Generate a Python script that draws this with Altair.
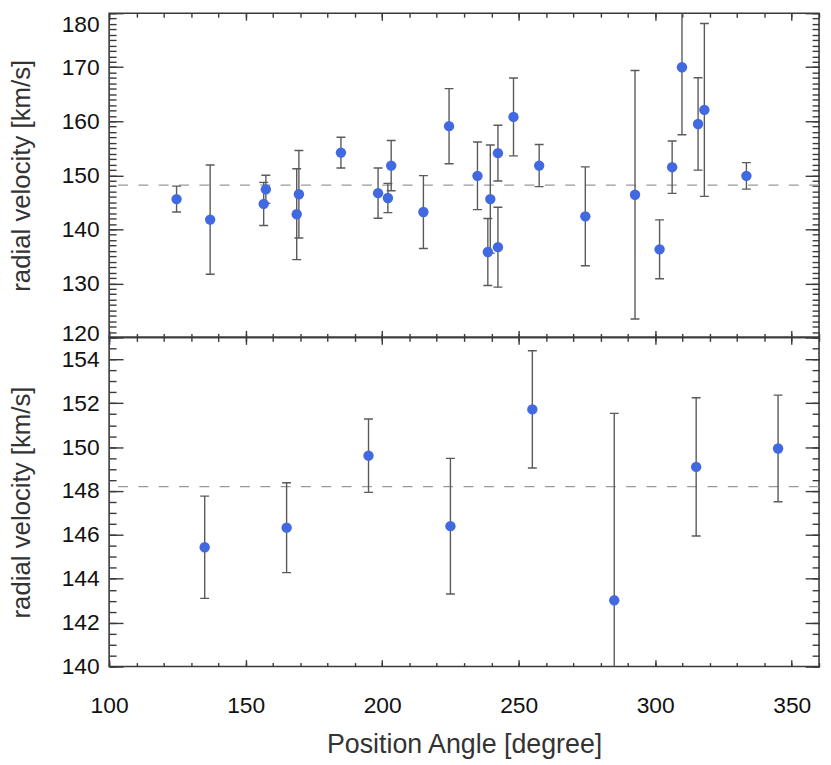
import altair as alt
import pandas as pd

# ---------------- data ----------------
# upper panel: individual measurements
pa_top = [124.7, 137.0, 156.6, 157.4, 168.7, 169.5, 184.9, 198.5, 202.1, 203.3,
          215.1, 224.5, 234.9, 238.7, 239.6, 242.4, 242.4, 248.1, 257.5, 274.4,
          292.6, 301.6, 306.2, 309.8, 315.7, 318.0, 333.4]
rv_top = [145.6, 141.8, 144.7, 147.4, 142.8, 146.5, 154.2, 146.7, 145.8, 151.8,
          143.2, 159.1, 149.9, 135.8, 145.6, 154.1, 136.7, 160.8, 151.8, 142.4,
          146.4, 136.3, 151.5, 170.0, 159.5, 162.1, 149.9]
err_top = [2.4, 10.1, 4.0, 2.6, 8.4, 8.1, 2.85, 4.65, 2.7, 4.65,
           6.75, 6.95, 6.25, 6.2, 10.0, 5.15, 7.4, 7.2, 3.9, 9.15,
           23.0, 5.45, 4.85, 12.5, 8.55, 16.0, 2.45]

# lower panel: binned values
pa_bot = [135, 165, 195, 225, 255, 285, 315, 345]
rv_bot = [145.44, 146.33, 149.61, 146.40, 151.72, 143.02, 149.10, 149.94]
err_bot = [2.33, 2.05, 1.67, 3.09, 2.67, 8.52, 3.15, 2.43]

mean_rv = 148.2

# axis ticks
x_major = [100, 150, 200, 250, 300, 350]
x_minor = [100, 110, 120, 130, 140, 150, 160, 170, 180, 190, 200, 210, 220, 230,
           240, 250, 260, 270, 280, 290, 300, 310, 320, 330, 340, 350, 360]
y_top_major = [120, 130, 140, 150, 160, 170, 180]
y_top_minor = list(range(120, 181))
y_bot_major = [140, 142, 144, 146, 148, 150, 152, 154]
y_bot_minor = [140 + 0.5 * i for i in range(31)]

FONT = "Liberation Sans"
FRAME = "#3a3a3a"
BAR = "#5a5a5a"
BLUE = "#4169E1"
W = 716
LABEL_SIZE = 23
TITLE_SIZE = 26


def x_axis(orient, values, size, labels=False):
    kw = dict(orient=orient, values=values, tickSize={"expr": str(-size)},
              tickColor=FRAME, tickWidth=1.4, domain=False, grid=False,
              labels=labels, labelFlush=False, labelOverlap=False)
    if labels:
        kw.update(labelFont=FONT, labelFontSize=LABEL_SIZE, labelColor="#111",
                  labelPadding=28 + size,
                  title="Position Angle [degree]", titleFont=FONT,
                  titleFontSize=TITLE_SIZE + 1, titleFontWeight="normal",
                  titleColor="#333", titleBaseline="alphabetic", titleY=87)
    else:
        kw["title"] = None
    return alt.Axis(**kw)


def y_axis(orient, values, size, labels=False, flush_top=None, lift_bottom=None):
    kw = dict(orient=orient, values=values, tickSize={"expr": str(-size)},
              tickColor=FRAME, tickWidth=1.4, domain=False, grid=False,
              labels=labels, labelOverlap=False)
    if labels:
        kw.update(labelFont=FONT, labelFontSize=LABEL_SIZE, labelColor="#111",
                  labelPadding=10 + size,
                  title="radial velocity [km/s]", titleFont=FONT,
                  titleFontSize=TITLE_SIZE, titleFontWeight="normal",
                  titleColor="#333", titleBaseline="alphabetic", titleX=-80)
        if flush_top is not None:
            kw["labelBaseline"] = {"condition": {"test": f"datum.value == {flush_top}",
                                                 "value": "top"},
                                   "value": "middle"}
        if lift_bottom is not None:
            kw["labelOffset"] = {"condition": {"test": f"datum.value == {lift_bottom}",
                                               "value": -4},
                                 "value": 0}
    else:
        kw["title"] = None
    return alt.Axis(**kw)


def panel(pa, rv, err, ydom, ymaj, ymin, show_x, height,
          flush_top=None, lift_bottom=None):
    df = pd.DataFrame({"pa": pa, "rv": rv,
                       "lo": [r - e for r, e in zip(rv, err)],
                       "hi": [r + e for r, e in zip(rv, err)]})
    xs = alt.Scale(domain=[100, 360], nice=False, zero=False)
    ys = alt.Scale(domain=ydom, nice=False, zero=False)
    base = alt.Chart(df)

    mean_df = pd.DataFrame({"m": [mean_rv]})
    mean_line = alt.Chart(mean_df).mark_rule(
        color="#999999", strokeWidth=1.3, strokeDash=[10, 10.5]
    ).encode(y=alt.Y("m:Q", scale=ys, axis=None))

    bars = base.mark_rule(color=BAR, strokeWidth=1.4, clip=True).encode(
        x=alt.X("pa:Q", scale=xs, axis=x_axis("bottom", x_major, 7, labels=show_x)),
        y=alt.Y("lo:Q", scale=ys, axis=y_axis("left", ymaj, 14, labels=True,
                                             flush_top=flush_top,
                                             lift_bottom=lift_bottom)),
        y2="hi:Q",
    )
    cap_lo = base.mark_tick(orient="horizontal", size=9, thickness=1.4,
                            color=BAR, opacity=1, clip=True).encode(
        x=alt.X("pa:Q", scale=xs, axis=x_axis("bottom", x_minor, 4)),
        y=alt.Y("lo:Q", scale=ys, axis=y_axis("left", ymin, 7)),
    )
    cap_hi = base.mark_tick(orient="horizontal", size=9, thickness=1.4,
                            color=BAR, opacity=1, clip=True).encode(
        x=alt.X("pa:Q", scale=xs, axis=x_axis("top", x_major, 7)),
        y=alt.Y("hi:Q", scale=ys, axis=y_axis("right", ymaj, 14)),
    )
    pts = base.mark_circle(size=110, color=BLUE, opacity=1).encode(
        x=alt.X("pa:Q", scale=xs, axis=x_axis("top", x_minor, 4)),
        y=alt.Y("rv:Q", scale=ys, axis=y_axis("right", ymin, 7)),
    )
    return (
        alt.layer(mean_line, bars, cap_lo, cap_hi, pts)
        .resolve_scale(x="shared", y="shared")
        .resolve_axis(x="independent", y="independent")
        .properties(width=W, height=height)
    )


top = panel(pa_top, rv_top, err_top, [120, 180], y_top_major, y_top_minor,
            False, 327, flush_top=180, lift_bottom=120)
bottom = panel(pa_bot, rv_bot, err_bot, [140, 155], y_bot_major, y_bot_minor,
               True, 332)

chart = (
    alt.vconcat(top, bottom, spacing=0, bounds="flush")
    .properties(padding={"left": 0, "top": 0, "right": 2, "bottom": 0},
                background="white")
    .configure_view(stroke=FRAME, strokeWidth=1.6)
)

chart.save("out.html", embed_options={"renderer": "svg", "actions": False})
